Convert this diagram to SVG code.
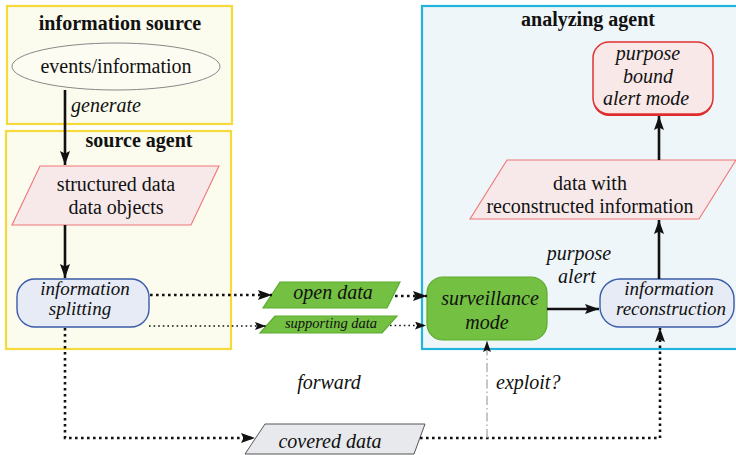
<svg xmlns="http://www.w3.org/2000/svg" width="736" height="455" viewBox="0 0 736 455" font-family="Liberation Serif, Times New Roman, Times, serif">
<defs>
<style>
text{fill:#111;text-anchor:middle}
.t{font-size:20px;font-weight:bold}
.n{font-size:20px}
.i{font-size:20px;font-style:italic}
.i2{font-size:19px;font-style:italic}
.s{font-size:14.5px;font-style:italic}
.ybox{fill:#fbfbee;stroke:#f6da3c;stroke-width:2.2}
.cbox{fill:#eef6f9;stroke:#22b4dc;stroke-width:2.2}
.pink{fill:#f7e9ea;stroke:#ef7676;stroke-width:1.1}
.blue{fill:#e7ebf6;stroke:#3a5ca8;stroke-width:1.4}
.green{fill:#74c043;stroke:#5cab2e;stroke-width:1.2}
.gray{fill:#e8e9ed;stroke:#555;stroke-width:1}
.solid{fill:none;stroke:#111;stroke-width:2.6}
.dot{fill:none;stroke:#111;stroke-width:2.6;stroke-dasharray:2.6 3.4}
.tdot{fill:none;stroke:#111;stroke-width:1.3;stroke-dasharray:1.6 3}
.dd{fill:none;stroke:#aaa;stroke-width:1.3;stroke-dasharray:9 3 1.5 3}
</style>
<marker id="ah" viewBox="0 0 14 10" refX="14" refY="5" markerWidth="14" markerHeight="10" orient="auto" markerUnits="userSpaceOnUse"><path d="M0,0 L14,5 L0,10 L2.5,5 z" fill="#111"/></marker>
<marker id="ahs" viewBox="0 0 14 10" refX="14" refY="5" markerWidth="11" markerHeight="8" orient="auto" markerUnits="userSpaceOnUse"><path d="M0,0 L14,5 L0,10 L2.5,5 z" fill="#111"/></marker>
</defs>

<g id="info-source-box">
<rect class="ybox" x="7" y="6" width="225" height="118"/>
<text class="t" x="120" y="30">information source</text>
</g>
<g id="source-agent-box">
<rect class="ybox" x="6" y="131" width="225" height="218"/>
<text class="t" x="139" y="147">source agent</text>
</g>
<g id="analyzing-agent-box">
<rect class="cbox" x="422" y="6" width="320" height="343"/>
<text class="t" x="588" y="26">analyzing agent</text>
</g>

<g id="events">
<ellipse cx="116" cy="66.5" rx="104" ry="23.5" fill="#fcfcf2" stroke="#888" stroke-width="1"/>
<text class="n" x="116" y="73">events/information</text>
</g>

<g id="structured">
<polygon class="pink" points="40,166 219,166 191,225 12,225"/>
<text class="n" x="116" y="191">structured data</text>
<text class="n" x="116" y="214">data objects</text>
</g>

<g id="splitting">
<rect class="blue" x="17" y="279" width="132" height="48" rx="18"/>
<text class="i2" x="85" y="295">information</text>
<text class="i2" x="80" y="315">splitting</text>
</g>

<g id="open-data">
<polygon class="green" points="280,282 400,282 387,308 263,308"/>
<text class="i" x="333" y="299">open data</text>
</g>

<g id="supporting-data">
<polygon class="green" points="275,316 397,316 382,333 260,333"/>
<text class="s" x="331" y="328">supporting data</text>
</g>

<g id="surveillance">
<rect class="green" x="427" y="277" width="120" height="63" rx="16"/>
<text class="i" x="490" y="305">surveillance</text>
<text class="i" x="487" y="329">mode</text>
</g>

<g id="reconstruction">
<rect class="blue" x="600" y="279" width="134" height="48" rx="20"/>
<text class="i2" x="669" y="295">information</text>
<text class="i2" x="671" y="315">reconstruction</text>
</g>

<g id="data-reconstructed">
<polygon class="pink" points="507,160 736,160 699,219 470,219"/>
<text class="n" x="590" y="190">data with</text>
<text class="n" x="590" y="213">reconstructed information</text>
</g>

<g id="purpose-bound">
<rect x="593" y="44" width="120" height="72" rx="16" fill="#e02828"/>
<rect x="593" y="42" width="120" height="72" rx="16" fill="#f8e8e8" stroke="#e03030" stroke-width="1.5"/>
<text class="i" x="648" y="60">purpose</text>
<text class="i" x="648" y="83">bound</text>
<text class="i" x="646" y="105">alert mode</text>
</g>

<g id="covered-data">
<polygon class="gray" points="265,424 425,424 414,454 245,454"/>
<text class="i" x="330" y="448">covered data</text>
</g>

<g id="connectors">
<path class="solid" d="M65,90 V165" marker-end="url(#ah)"/>
<path class="solid" d="M65,225 V278" marker-end="url(#ah)"/>
<path class="dot" d="M150,295 H272" marker-end="url(#ah)"/>
<path class="dot" d="M395,296 H427" marker-end="url(#ah)"/>
<path class="tdot" d="M149,326 H266" marker-end="url(#ahs)"/>
<path class="tdot" d="M390,325.5 H426" marker-end="url(#ahs)"/>
<path class="solid" d="M547,309 H599" marker-end="url(#ah)"/>
<path class="solid" d="M659,279 V220" marker-end="url(#ah)"/>
<path class="solid" d="M659,160 V116" marker-end="url(#ah)"/>
<path class="dot" d="M65,328 V438 H255" marker-end="url(#ah)"/>
<path class="dot" d="M420,438 H660 V328" marker-end="url(#ah)"/>
<path class="dd" d="M487,438 V350"/>
<path d="M487,350 V341" fill="none" stroke="#aaa" stroke-width="1.3" marker-end="url(#ahs)"/>
<text class="i" x="71" y="112" style="text-anchor:start">generate</text>
<text class="i" x="579" y="260">purpose</text>
<text class="i" x="577" y="283">alert</text>
<text class="i" x="329" y="389">forward</text>
<text class="i" x="496" y="389" style="text-anchor:start">exploit?</text>
</g>
</svg>
